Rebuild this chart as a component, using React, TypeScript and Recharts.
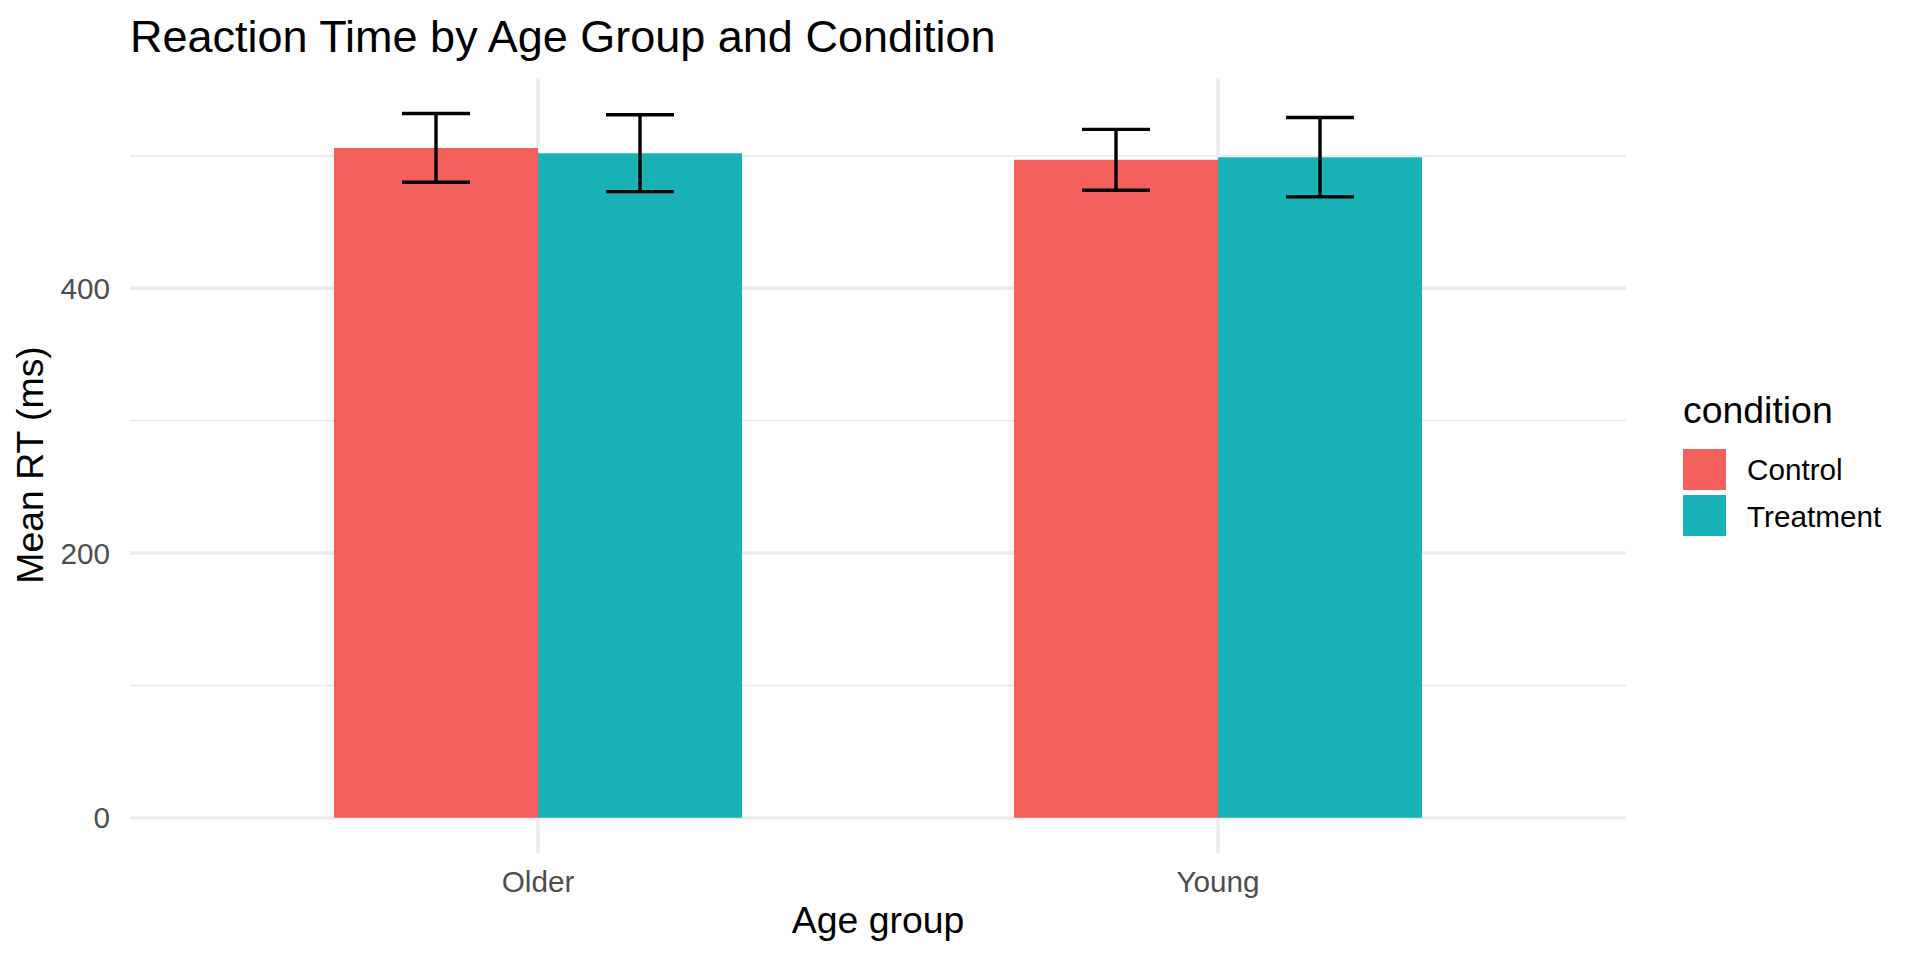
import { Bar, BarChart, CartesianGrid, ErrorBar, XAxis, YAxis } from "recharts";

const AGE_GROUPS = ["Older", "Young"];
const CONDITIONS = ["Control", "Treatment"];
const CONTROL_MEAN = [506, 497];
const CONTROL_ERR = [26, 23];
const TREATMENT_MEAN = [502, 499];
const TREATMENT_ERR = [29, 30];
const MAJOR_TICKS = [0, 200, 400];
const MINOR_TICKS = [100, 300, 500];
const Y_DOMAIN = [-26.6, 558.8];

const COLORS = ["#F35F5B", "#19B2B7"];
const FONT = "'Liberation Sans', Arial, Helvetica, sans-serif";
const GRID = "#EBEBEB";

const data = AGE_GROUPS.map((age, i) => ({
  age,
  control: CONTROL_MEAN[i],
  controlErr: CONTROL_ERR[i],
  treatment: TREATMENT_MEAN[i],
  treatmentErr: TREATMENT_ERR[i],
}));

const tickStyle = { fill: "#4D4D4D", fontSize: 29.7, fontFamily: FONT };

export default function App() {
  return (
    <div style={{ position: "absolute", left: 0, top: 0, width: 1920, height: 960, background: "#fff" }}>
      <BarChart
        width={1920}
        height={960}
        data={data}
        margin={{ top: 78, right: 294, bottom: 0, left: 0 }}
        barCategoryGap="20%"
        barGap={0}
      >
        {/* minor + major grid, only at the tick values (no edge lines) */}
        <CartesianGrid horizontalValues={MINOR_TICKS} vertical={false} stroke={GRID} strokeWidth={1.7} />
        <CartesianGrid horizontalValues={MAJOR_TICKS} syncWithTicks stroke={GRID} strokeWidth={3.3} />
        <XAxis
          dataKey="age"
          axisLine={false}
          tickLine={false}
          tickSize={0}
          tickMargin={18}
          height={107}
          padding={{ left: 68, right: 68 }}
          tick={tickStyle}
        />
        <YAxis
          type="number"
          domain={Y_DOMAIN}
          ticks={MAJOR_TICKS}
          axisLine={false}
          tickLine={false}
          tickSize={0}
          tickMargin={20}
          width={130}
          tick={tickStyle}
        />
        <Bar dataKey="control" fill={COLORS[0]} isAnimationActive={false}>
          <ErrorBar dataKey="controlErr" width={34} stroke="#000" strokeWidth={3.4} />
        </Bar>
        <Bar dataKey="treatment" fill={COLORS[1]} isAnimationActive={false}>
          <ErrorBar dataKey="treatmentErr" width={34} stroke="#000" strokeWidth={3.4} />
        </Bar>
      </BarChart>

      <svg
        width={1920}
        height={960}
        style={{ position: "absolute", left: 0, top: 0, pointerEvents: "none" }}
        fontFamily={FONT}
      >
        <text x={130} y={52} fontSize={45} fill="#000">
          Reaction Time by Age Group and Condition
        </text>
        <text x={43} y={465} fontSize={37.4} fill="#000" textAnchor="middle" transform="rotate(-90, 43, 465)">
          Mean RT (ms)
        </text>
        <text x={878} y={933} fontSize={37.4} fill="#000" textAnchor="middle">
          Age group
        </text>

        {/* legend */}
        <text x={1683} y={423} fontSize={37.4} fill="#000">
          condition
        </text>
        {CONDITIONS.map((name, i) => (
          <g key={name}>
            <rect x={1683} y={449 + i * 46} width={43} height={41} fill={COLORS[i]} />
            <text x={1747} y={480 + i * 47} fontSize={29.7} fill="#000">
              {name}
            </text>
          </g>
        ))}
      </svg>
    </div>
  );
}
